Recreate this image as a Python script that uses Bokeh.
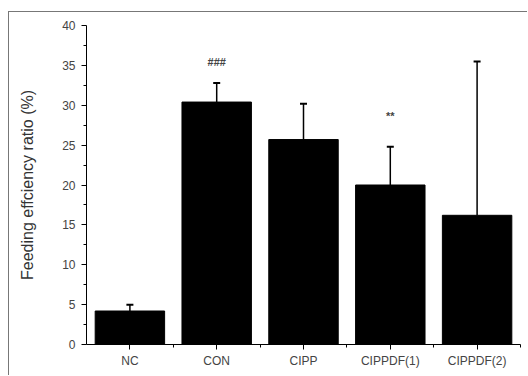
from bokeh.plotting import figure
from bokeh.models import ColumnDataSource, Whisker, TeeHead, FixedTicker, Range1d
from bokeh.core.properties import value
from bokeh.embed import file_html
from bokeh.resources import INLINE

categories = ["NC", "CON", "CIPP", "CIPPDF(1)", "CIPPDF(2)"]
means = [4.2, 30.4, 25.7, 20.0, 16.2]
errors = [0.8, 2.4, 4.5, 4.8, 19.3]
marks = ["", "###", "", "**", ""]
mark_gap = [0, 2.6, 0, 3.9, 0]

xs = list(range(1, len(categories) + 1))
upper = [m + e for m, e in zip(means, errors)]

src = ColumnDataSource(dict(x=xs, top=means, lower=means, upper=upper,
                            mark=marks,
                            marky=[u + g for u, g in zip(upper, mark_gap)]))

p = figure(width=519, height=364, output_backend="svg", toolbar_location=None,
           x_range=Range1d(0.5, 5.5), y_range=Range1d(0, 40),
           min_border_left=77, min_border_right=8, min_border_top=13,
           min_border_bottom=32)
p.styles = {"border-top": "1px solid #777", "border-left": "1px solid #777",
            "margin-left": "8px", "margin-top": "11px"}
p.outline_line_color = None
p.grid.visible = False
p.background_fill_color = "white"
p.border_fill_color = "white"

p.vbar(x="x", top="top", width=0.8, bottom=0, source=src,
       fill_color="black", line_color="black")

w = Whisker(base="x", lower="lower", upper="upper", source=src,
            line_color="black", line_width=1.5,
            upper_head=TeeHead(size=7, line_color="black", line_width=2),
            lower_head=None)
p.add_layout(w)

p.text(x="x", y="marky", text="mark", source=src, text_align="center",
       text_baseline="middle", text_font_size="11px", text_color="#444",
       text_font_style="bold", text_font=value("Liberation Sans"))

# x axis
p.xaxis.ticker = FixedTicker(ticks=xs, minor_ticks=[1.5, 2.5, 3.5, 4.5, 5.5])
p.xaxis.major_label_overrides = {x: c for x, c in zip(xs, categories)}
p.xaxis.major_tick_in = 0
p.xaxis.major_tick_out = 5
p.xaxis.minor_tick_in = 0
p.xaxis.minor_tick_out = 3
p.xaxis.major_label_text_font = "Liberation Sans"
p.xaxis.major_label_text_font_size = "12px"
p.xaxis.major_label_text_color = "#444"
p.xaxis.major_label_standoff = 4
p.xaxis.axis_line_color = "black"

# y axis
p.yaxis.ticker = FixedTicker(ticks=[0, 5, 10, 15, 20, 25, 30, 35, 40],
                             minor_ticks=[2.5, 7.5, 12.5, 17.5, 22.5, 27.5, 32.5, 37.5])
p.yaxis.major_tick_in = 0
p.yaxis.major_tick_out = 5
p.yaxis.minor_tick_in = 0
p.yaxis.minor_tick_out = 3
p.yaxis.major_label_text_font = "Liberation Sans"
p.yaxis.major_label_text_font_size = "12px"
p.yaxis.major_label_text_color = "#444"
p.yaxis.major_label_standoff = 6
p.yaxis.axis_label = "Feeding effciency ratio (%)"
p.yaxis.axis_label_text_font = "Liberation Sans"
p.yaxis.axis_label_text_font_style = "normal"
p.yaxis.axis_label_text_font_size = "16px"
p.yaxis.axis_label_text_color = "#333"
p.yaxis.axis_label_standoff = 23

open("out.html", "w").write(file_html(p, INLINE))
